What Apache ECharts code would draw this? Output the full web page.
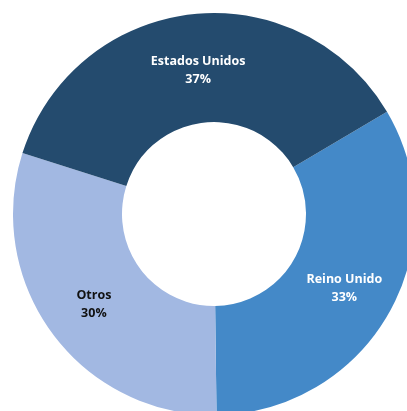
<!DOCTYPE html>
<html>
<head>
<meta charset="utf-8">
<script src="https://cdn.jsdelivr.net/npm/echarts@6/dist/echarts.min.js"></script>
<style>
html,body{margin:0;padding:0;background:#fff;}
#chart{width:407px;height:411px;}
</style>
</head>
<body>
<div id="chart"></div>
<script>
const categories = ['Reino Unido', 'Otros', 'Estados Unidos'];
const values = [33.3, 30.1, 36.6];
const labelTexts = ['33%', '30%', '37%'];
const colors = ['#4489C8', '#A2B8E2', '#244B6E'];
const labelColors = ['#ffffff', '#111111', '#ffffff'];
const labelOffsets = [[0, 1], [0, 1], [1, 5]];

const chart = echarts.init(document.getElementById('chart'), null, {renderer: 'canvas'});
chart.setOption({
  animation: false,
  series: [{
    type: 'pie',
    center: [214, 214],
    radius: [92, 201],
    startAngle: 30.6,
    clockwise: true,
    avoidLabelOverlap: false,
    itemStyle: {borderWidth: 0},
    label: {
      position: 'inside',
      fontFamily: 'Open Sans',
      fontWeight: 'bold',
      fontSize: 12.5,
      lineHeight: 18
    },
    labelLine: {show: false},
    emphasis: {disabled: true},
    data: categories.map((c, i) => ({
      name: c,
      value: values[i],
      itemStyle: {color: colors[i]},
      label: {
        color: labelColors[i],
        offset: labelOffsets[i],
        formatter: c + '\n' + labelTexts[i]
      }
    }))
  }]
});
</script>
</body>
</html>
